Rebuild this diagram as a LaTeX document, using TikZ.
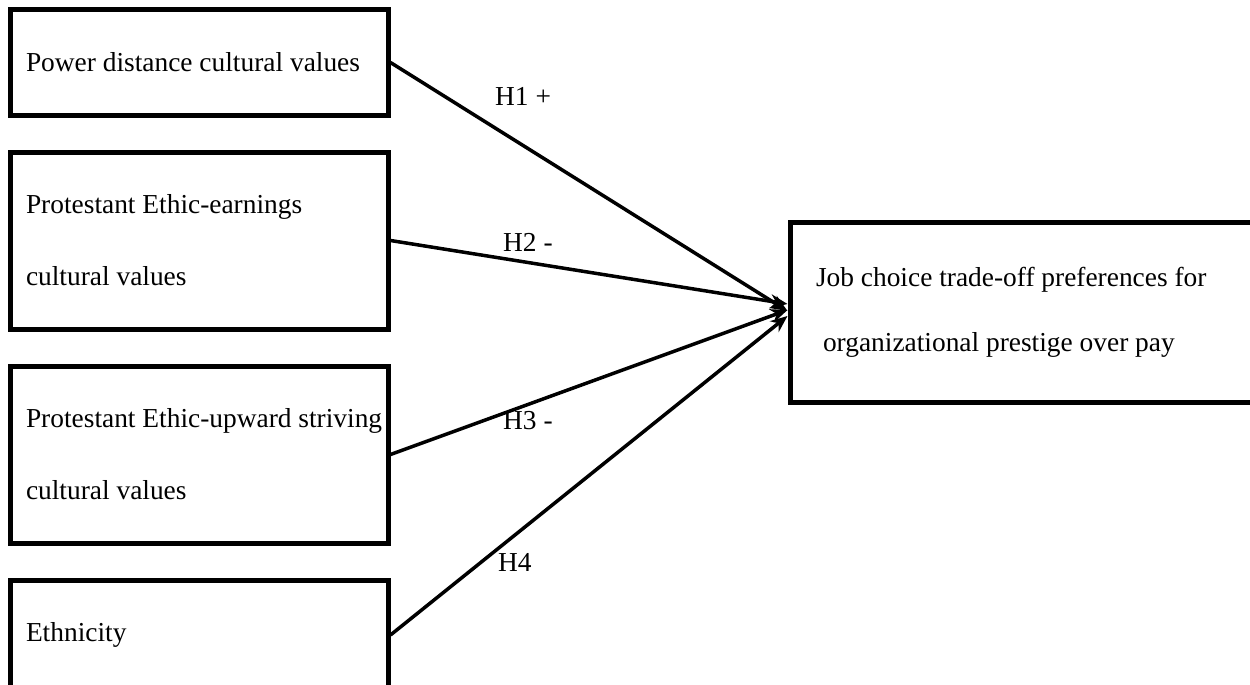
\documentclass[tikz,border=0pt]{standalone}
\usepackage{fontspec}
\setmainfont{Liberation Serif}
\usetikzlibrary{positioning,arrows.meta}
\tikzset{
   model/.style={>={Stealth[length=17pt,width=14pt]},
   x=1pt,
   y=-1pt},
 factor/.style={rectangle,draw,line width=5pt,minimum width=378pt,
   text width=346pt,inner xsep=16pt,inner ysep=0pt,align=flush left,
   font=\fontsize{27.4}{72}\selectfont},
 outcome/.style={factor,minimum width=480pt,minimum height=180pt,
   text width=428pt,inner xsep=26pt,font=\fontsize{27.4}{65}\selectfont},
 hyp/.style={inner sep=0pt,font=\fontsize{27.4}{33}\selectfont},
 link/.style={->,line width=3.5pt}
 }
\begin{document}
\begin{tikzpicture}[model]
      \clip (0,0) rectangle (1250,685);
      \node[factor, minimum height=105pt, anchor=north west] (pd) at (7.5,7.5) {Power distance cultural values};
      \node[factor, minimum height=177pt, below=32pt of pd.south west, anchor=north west] (pee) {Protestant Ethic-earnings\\cultural values};
      \node[factor, minimum height=177pt, below=32pt of pee.south west, anchor=north west] (peu) {\mbox{Protestant Ethic-upward striving}\\cultural values};
      \node[factor, minimum height=110pt, below=32pt of peu.south west, anchor=north west] (eth) {Ethnicity};
      \node[outcome, anchor=west] (job) at (787.5,312) {Job choice trade-off preferences for\\\hspace*{7pt}organizational prestige over pay};
      \draw[link] (pd.east) to ([yshift=1pt]job.west);
      \draw[link] (pee.east) to ([yshift=8pt]job.west);
      \draw[link] (peu.east) to ([yshift=2pt]job.west);
      \draw[link] (eth.east) to ([yshift=-4pt]job.west);
      \node[hyp, anchor=base west] (h1) at (495,105) {H1 +};
      \node[hyp, anchor=base west] (h2) at (503,251) {H2 -};
      \node[hyp, anchor=base west] (h3) at (503,429) {H3 -};
      \node[hyp, anchor=base west] (h4) at (498,571) {H4};
    \end{tikzpicture}
\end{document}
